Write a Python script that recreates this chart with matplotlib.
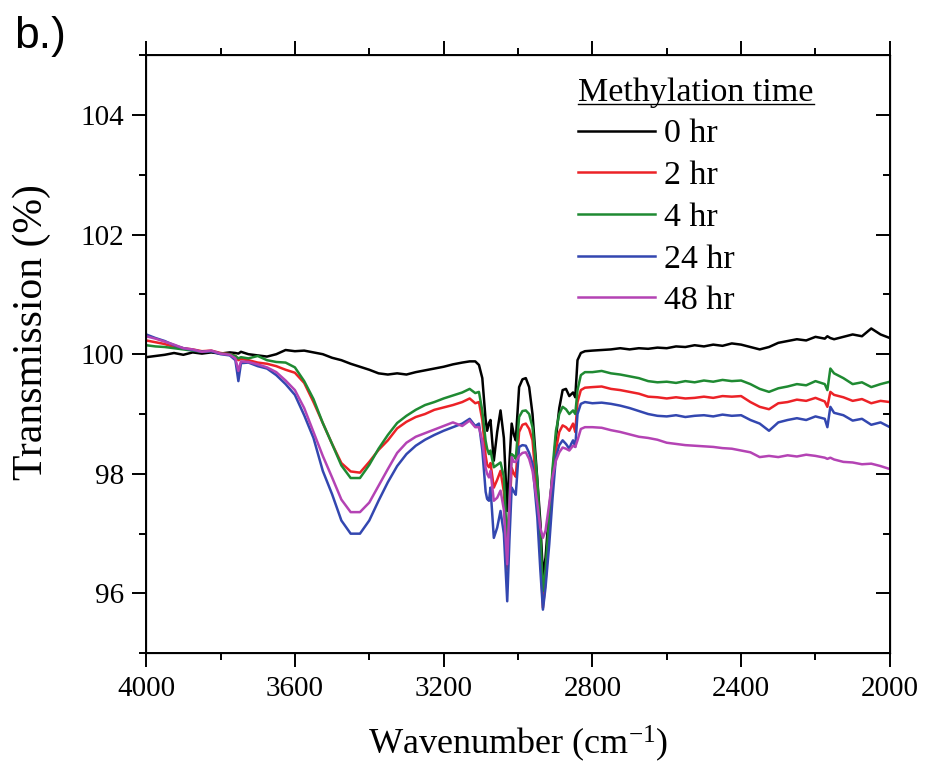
import numpy as np
import matplotlib
matplotlib.use("Agg")
import matplotlib.pyplot as plt
from matplotlib.ticker import MultipleLocator
from matplotlib.lines import Line2D

plt.rcParams['font.family'] = ['Liberation Serif', 'DejaVu Serif']
plt.rcParams['mathtext.fontset'] = 'custom'
plt.rcParams['mathtext.rm'] = 'Liberation Serif'
plt.rcParams['mathtext.it'] = 'Liberation Serif:italic'

# wavenumber grid (cm-1)
wavenumber = [
    4000, 3975, 3950, 3925, 3900, 3875, 3850, 3825, 3800, 3775, 3760, 3752, 3745, 3725, 3700, 3675, 3650, 3625, 3600,
    3575, 3550, 3525, 3500, 3475, 3450, 3425, 3400, 3375, 3350, 3325, 3300, 3275, 3250, 3225, 3200, 3175, 3150, 3130, 3115,
    3105, 3096, 3087, 3083, 3078, 3074, 3065, 3056, 3047, 3038, 3029, 3023, 3017, 3011, 3006, 2997, 2988, 2979, 2970, 2961,
    2948, 2940, 2933, 2926, 2916, 2907, 2898, 2889, 2880, 2871, 2862, 2857, 2852, 2846, 2840, 2831, 2820,
    2800, 2775, 2750, 2725, 2700, 2675, 2650, 2625, 2600, 2575, 2550, 2525, 2500, 2475, 2450, 2425, 2400, 2375, 2350,
    2325, 2300, 2275, 2250, 2225, 2200, 2175, 2168, 2160, 2150, 2125, 2100, 2075, 2050, 2025, 2000]

t_0hr = [
    99.95, 99.97, 99.99, 100.02, 99.99, 100.03, 100.01, 100.03, 100.01, 100.03, 100.02, 100.01, 100.04, 100.0, 99.98, 99.96, 100.0, 100.07, 100.05,
    100.06, 100.03, 100.0, 99.94, 99.9, 99.84, 99.79, 99.74, 99.68, 99.66, 99.68, 99.66, 99.7, 99.73, 99.76, 99.79, 99.83, 99.86, 99.88, 99.88,
    99.82, 99.6, 98.9, 98.72, 98.85, 98.9, 98.22, 98.7, 99.06, 98.6, 97.38, 98.2, 98.84, 98.65, 98.56, 99.45, 99.58, 99.6, 99.45, 99.0,
    97.9, 97.2, 96.3, 96.6, 97.4, 98.0, 98.6, 99.1, 99.4, 99.42, 99.3, 99.33, 99.36, 99.28, 99.9, 100.02, 100.05,
    100.06, 100.07, 100.08, 100.1, 100.08, 100.1, 100.09, 100.11, 100.1, 100.13, 100.12, 100.15, 100.13, 100.16, 100.14, 100.18, 100.16, 100.12, 100.08,
    100.12, 100.19, 100.22, 100.25, 100.23, 100.29, 100.26, 100.3, 100.27, 100.25, 100.29, 100.33, 100.3, 100.43, 100.33, 100.27]

t_2hr = [
    100.23, 100.2, 100.17, 100.12, 100.1, 100.08, 100.05, 100.06, 100.02, 100.0, 99.97, 99.9, 99.92, 99.9, 99.86, 99.84, 99.8, 99.74, 99.69,
    99.52, 99.2, 98.85, 98.5, 98.18, 98.04, 98.02, 98.2, 98.4, 98.56, 98.76, 98.87, 98.95, 99.0, 99.07, 99.11, 99.15, 99.2, 99.26, 99.18,
    99.2, 98.9, 98.3, 98.15, 98.11, 98.18, 97.77, 97.9, 98.05, 97.7, 96.4, 97.4, 98.1, 98.0, 97.95, 98.7, 98.82, 98.84, 98.75, 98.56,
    97.6, 96.7, 95.76, 96.2, 97.05, 97.9, 98.4, 98.7, 98.81, 98.78, 98.72, 98.78, 98.84, 98.7, 99.2, 99.4, 99.44,
    99.45, 99.46, 99.42, 99.4, 99.37, 99.34, 99.29, 99.28, 99.26, 99.28, 99.26, 99.27, 99.29, 99.27, 99.3, 99.29, 99.3, 99.2, 99.12,
    99.08, 99.18, 99.2, 99.24, 99.22, 99.27, 99.21, 99.12, 99.37, 99.32, 99.28, 99.22, 99.25, 99.18, 99.22, 99.2]

t_4hr = [
    100.15, 100.13, 100.12, 100.1, 100.08, 100.06, 100.04, 100.05, 100.01, 100.0, 99.97, 99.93, 99.95, 99.93, 99.97, 99.9, 99.87, 99.86, 99.78,
    99.55, 99.25, 98.85, 98.5, 98.14, 97.93, 97.93, 98.15, 98.42, 98.65, 98.85, 98.97, 99.07, 99.15, 99.2, 99.26, 99.31, 99.36, 99.42, 99.35,
    99.37, 99.05, 98.55, 98.42, 98.33, 98.39, 98.11, 98.15, 98.19, 97.95, 96.77, 97.6, 98.33, 98.3, 98.25, 98.95, 99.05, 99.06, 99.0, 98.78,
    97.89, 97.0, 96.04, 96.4, 97.27, 98.1, 98.72, 99.0, 99.12, 99.08, 99.0, 99.03, 99.06, 99.0, 99.4, 99.65, 99.7,
    99.7, 99.72, 99.68, 99.66, 99.63, 99.6, 99.55, 99.53, 99.54, 99.52, 99.55, 99.53, 99.56, 99.54, 99.57, 99.55, 99.56, 99.5, 99.42,
    99.37, 99.43, 99.46, 99.5, 99.48, 99.55, 99.5, 99.4, 99.76, 99.68, 99.6, 99.5, 99.53, 99.45, 99.5, 99.54]

t_24hr = [
    100.33, 100.27, 100.22, 100.15, 100.1, 100.07, 100.04, 100.05, 100.0, 99.98, 99.9, 99.55, 99.85, 99.86, 99.8, 99.76, 99.65, 99.5, 99.32,
    98.98, 98.6, 98.05, 97.66, 97.22, 97.0, 97.0, 97.22, 97.55, 97.86, 98.13, 98.33, 98.47, 98.57, 98.65, 98.72, 98.78, 98.84, 98.92, 98.8,
    98.84, 98.4, 97.7, 97.58, 97.55, 97.77, 96.93, 97.1, 97.38, 97.0, 95.87, 96.9, 97.77, 97.7, 97.65, 98.45, 98.48, 98.47, 98.35, 98.17,
    97.27, 96.4, 95.73, 96.1, 96.82, 97.6, 98.28, 98.48, 98.56, 98.5, 98.42, 98.5, 98.56, 98.45, 99.0, 99.17, 99.2,
    99.18, 99.19, 99.17, 99.14, 99.1, 99.05, 99.0, 98.97, 98.96, 98.98, 98.95, 98.97, 98.98, 98.96, 98.99, 98.97, 98.98, 98.9, 98.84,
    98.72, 98.86, 98.9, 98.93, 98.9, 98.96, 98.92, 98.78, 99.12, 99.02, 98.98, 98.89, 98.92, 98.82, 98.86, 98.78]

t_48hr = [
    100.3, 100.26, 100.21, 100.16, 100.1, 100.08, 100.04, 100.06, 100.01, 99.99, 99.93, 99.72, 99.88, 99.87, 99.83, 99.78, 99.7, 99.56, 99.4,
    99.1, 98.7, 98.3, 97.94, 97.57, 97.36, 97.36, 97.52, 97.8, 98.08, 98.35, 98.52, 98.62, 98.68, 98.74, 98.8, 98.86, 98.8, 98.89, 98.78,
    98.78, 98.55, 98.1, 98.0, 97.94, 98.05, 97.55, 97.6, 97.72, 97.4, 96.49, 97.5, 98.28, 98.2, 98.2, 98.3, 98.35, 98.36, 98.25, 98.05,
    97.5, 97.1, 96.93, 97.05, 97.5, 97.95, 98.22, 98.36, 98.44, 98.42, 98.39, 98.43, 98.47, 98.45, 98.56, 98.75, 98.78,
    98.78, 98.77, 98.73, 98.7, 98.66, 98.62, 98.6, 98.57, 98.52, 98.5, 98.48, 98.47, 98.46, 98.45, 98.43, 98.42, 98.39, 98.36, 98.28,
    98.3, 98.28, 98.31, 98.29, 98.32, 98.3, 98.27, 98.25, 98.27, 98.24, 98.2, 98.19, 98.16, 98.17, 98.13, 98.08]

labels = ['0 hr', '2 hr', '4 hr', '24 hr', '48 hr']
colors = ['#000000', '#ec2227', '#1f8a32', '#3347b0', '#b443b4']

fig = plt.figure(figsize=(9.25, 7.65), dpi=100)
ax = fig.add_axes([0.158, 0.146, 0.804, 0.782])

for t, lab, c in zip([t_0hr, t_2hr, t_4hr, t_24hr, t_48hr], labels, colors):
    ax.plot(wavenumber, t, color=c, lw=1.8, label=lab)

ax.set_xlim(4000, 2000)
ax.set_ylim(95, 105)
ax.xaxis.set_major_locator(MultipleLocator(400))
ax.xaxis.set_minor_locator(MultipleLocator(200))
ax.yaxis.set_major_locator(MultipleLocator(2))
ax.yaxis.set_minor_locator(MultipleLocator(1))
ax.tick_params(which='both', direction='out', width=1.4, labelsize=21, pad=6)
ax.tick_params(which='major', length=10)
ax.tick_params(which='minor', length=5)
for s in ax.spines.values():
    s.set_linewidth(1.4)

# right side ticks point inward, top ticks point outward
axr = ax.twinx()
axr.set_ylim(ax.get_ylim())
axr.yaxis.set_major_locator(MultipleLocator(2))
axr.yaxis.set_minor_locator(MultipleLocator(1))
axr.tick_params(which='both', direction='in', width=1.4, labelright=False)
axr.tick_params(which='major', length=10)
axr.tick_params(which='minor', length=5)
axt = ax.twiny()
axt.set_xlim(ax.get_xlim())
axt.xaxis.set_major_locator(MultipleLocator(400))
axt.xaxis.set_minor_locator(MultipleLocator(200))
axt.tick_params(which='both', direction='out', width=1.4, labeltop=False)
axt.tick_params(which='major', length=10)
axt.tick_params(which='minor', length=5)

ax.set_xlabel('Wavenumber (cm$^{\\mathregular{-1}}$)', fontsize=26)
ax.set_ylabel('Transmission (%)', fontsize=30)
ax.xaxis.set_label_coords(0.5, -0.117)
ax.yaxis.set_label_coords(-0.128, 0.537)

leg = axt.legend(*ax.get_legend_handles_labels(), title='Methylation time', loc='upper left',
                 bbox_to_anchor=(0.581, 0.963), frameon=False, fontsize=24.5,
                 title_fontsize=24.5, handlelength=2.27, handletextpad=0.24,
                 labelspacing=0.32, borderpad=0, borderaxespad=0, alignment='left')

fig.text(0.015, 0.937, 'b.)', fontsize=32, family='Liberation Sans')

# underline the legend title
fig.canvas.draw()
bb = leg.get_title().get_window_extent()
inv = fig.transFigure.inverted()
(x0, yl), (x1, _) = inv.transform([(bb.x0, bb.y0 + 4), (bb.x1, bb.y0 + 4)])
fig.add_artist(Line2D([x0, x1], [yl, yl], color='k', lw=1.0))

fig.savefig('out.png', dpi=100)
